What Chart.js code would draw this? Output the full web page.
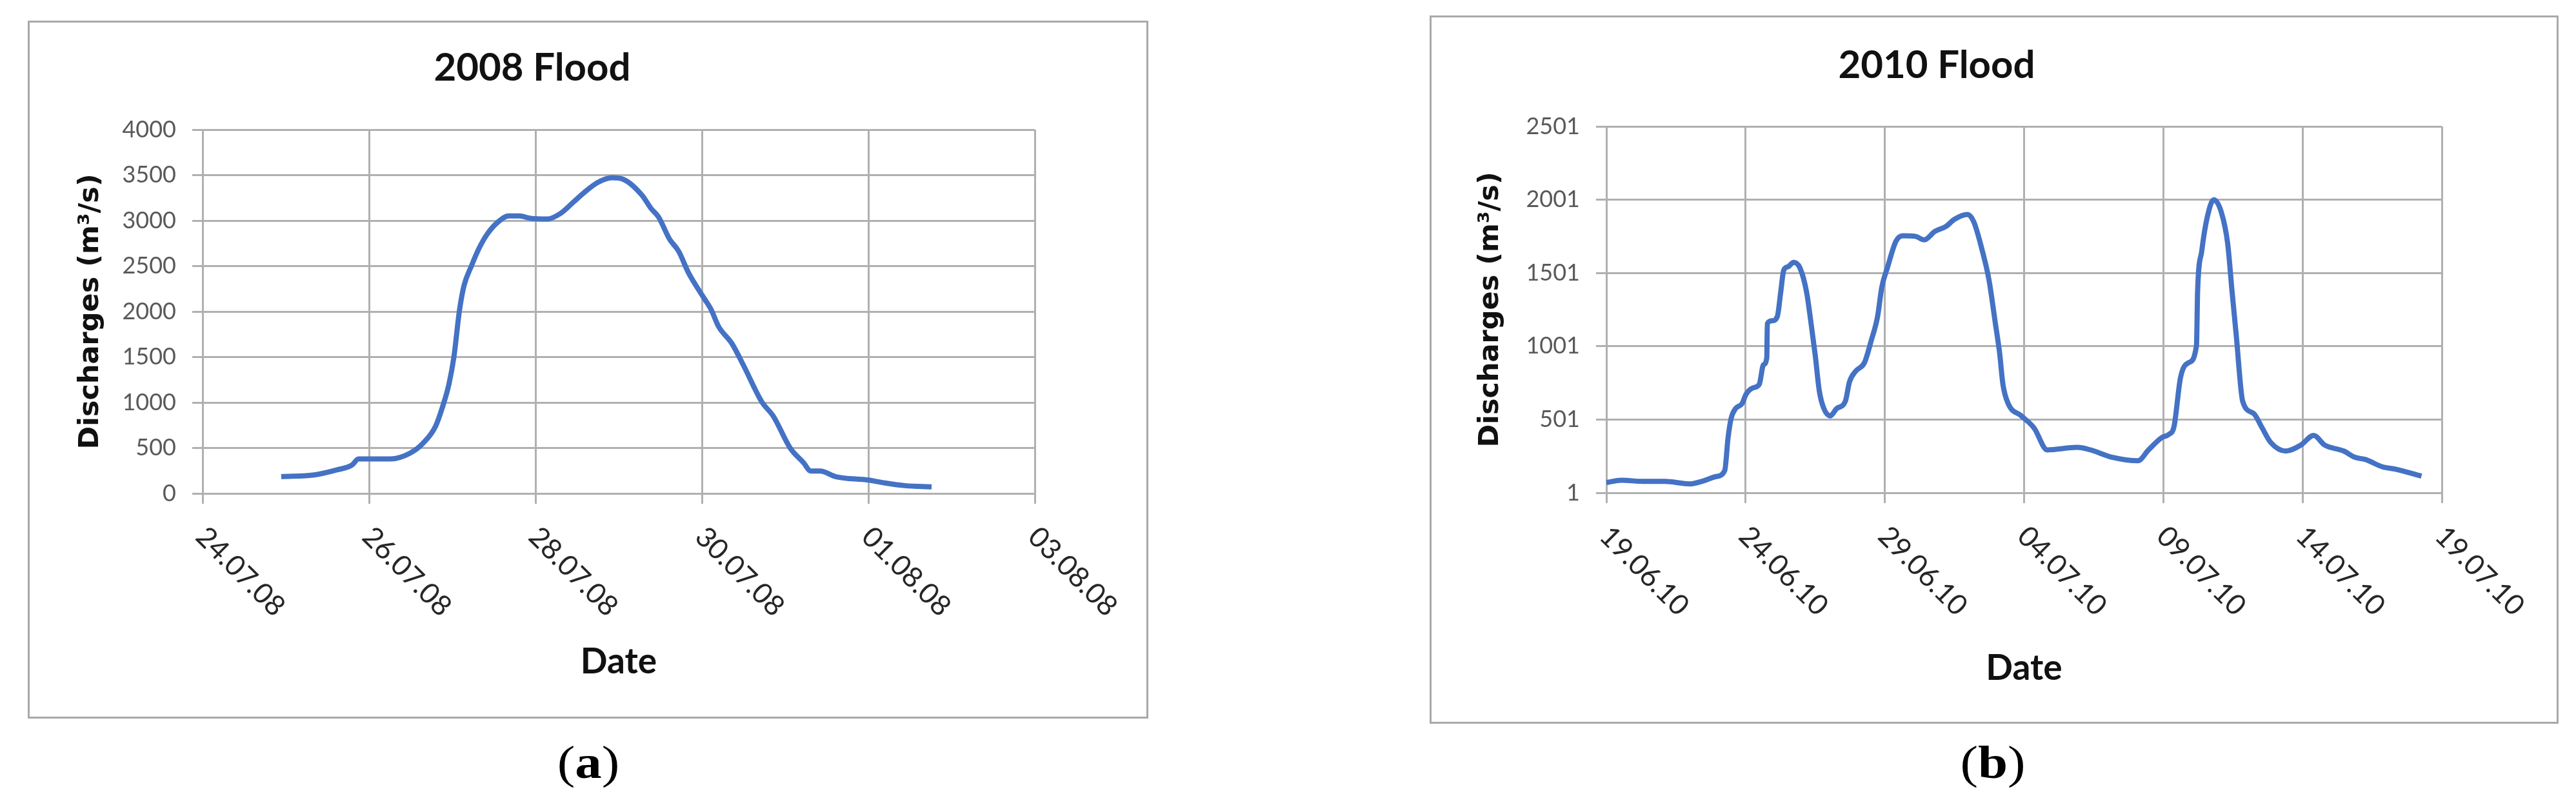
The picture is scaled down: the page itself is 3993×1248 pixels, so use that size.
<!DOCTYPE html>
<html>
<head>
<meta charset="utf-8">
<script src="https://cdn.jsdelivr.net/npm/chart.js@4.4.1/dist/chart.umd.min.js"></script>
<style>
  body { margin: 0; width: 3993px; height: 1248px; background: #fff; position: relative; overflow: hidden; }
  .box { position: absolute; border: 3px solid #a9a9a9; box-sizing: border-box; }
  .box canvas { position: absolute; left: 0; top: 0; }
  .cap { position: absolute; font-family: "Liberation Serif", serif; font-size: 72px; color: #000;
         transform: translateX(-50%) scaleX(1.15); line-height: 1; }
</style>
</head>
<body>
<div class="box" style="left:43px; top:32px; width:1737px; height:1082px;"><canvas id="chart08" width="1731" height="1076"></canvas></div>
<div class="box" style="left:2216px; top:24px; width:1750px; height:1098px;"><canvas id="chart10" width="1744" height="1092"></canvas></div>
<div class="cap" style="left:912px; top:1146px;">(<b>a</b>)</div>
<div class="cap" style="left:3089px; top:1146px;">(<b>b</b>)</div>
<script>
// 2008 flood: days after 24.07.08, discharge m3/s
const days08 = [0.945, 1.357, 1.615, 1.796, 1.874, 2.0, 2.26, 2.49, 2.65, 2.80, 2.90, 2.96, 3.02, 3.085, 3.14,
  3.23, 3.32, 3.42, 3.55, 3.68, 3.81, 3.94, 4.14, 4.30, 4.45, 4.60, 4.75, 4.92, 5.06, 5.28, 5.39, 5.48, 5.61, 5.72,
  5.84, 6.0, 6.11, 6.20, 6.36, 6.50, 6.72, 6.86, 7.06, 7.22, 7.31, 7.42, 7.61, 8.0, 8.17, 8.44, 8.76];
const flow08 = [184, 206, 259, 313, 379, 379, 379, 441, 553, 740, 1000, 1200, 1500, 2000, 2280,
  2500, 2691, 2851, 2985, 3051, 3051, 3025, 3017, 3078, 3198, 3320, 3420, 3471, 3452, 3279, 3132, 3038, 2798, 2664,
  2424, 2183, 2023, 1836, 1649, 1408, 1007, 847, 500, 339, 246, 246, 184, 147, 120, 86, 72];
const xTicks08 = [0, 2, 4, 6, 8, 10];
const xLabels08 = ['24.07.08', '26.07.08', '28.07.08', '30.07.08', '01.08.08', '03.08.08'];
const yTicks08 = [0, 500, 1000, 1500, 2000, 2500, 3000, 3500, 4000];

// 2010 flood: days after 19.06.10
const days10 = [0, 0.54, 1.31, 2.09, 3.01, 3.48, 3.94, 4.25, 4.37, 4.48, 4.64, 4.87, 5.02, 5.25, 5.49, 5.64, 5.76,
  5.78, 5.95, 6.14, 6.26, 6.37, 6.53, 6.72, 6.95, 7.19, 7.34, 7.50, 7.65, 7.81, 8.04, 8.27, 8.58, 8.73, 8.96, 9.27,
  9.51, 9.74, 9.89, 10.09, 10.40, 10.64, 11.10, 11.41, 11.80, 12.19, 12.50, 12.96, 13.19, 13.50, 13.74, 13.97,
  14.12, 14.24, 14.43, 14.90, 15.36, 15.83, 16.91, 17.38, 18.16, 19.09, 19.47, 19.94, 20.2, 20.38, 20.62, 20.92,
  21.19, 21.23, 21.38, 21.58, 21.81, 22.08, 22.31, 22.47, 22.62, 22.85, 23.24, 23.55, 23.86, 24.40, 24.94, 25.40,
  25.79, 26.48, 26.87, 27.26, 27.87, 28.34, 29.27];
const flow10 = [71, 87, 79, 79, 62, 82, 112, 153, 377, 509, 576, 609, 675, 716, 741, 874, 923,
  1155, 1175, 1205, 1370, 1520, 1544, 1573, 1536, 1370, 1172, 940, 692, 576, 526, 576, 625, 758, 832, 890,
  1039, 1205, 1404, 1536, 1718, 1755, 1751, 1727, 1785, 1818, 1867, 1900, 1851, 1652, 1453, 1155,
  957, 741, 609, 526, 443, 294, 311, 294, 244, 220, 294, 377, 400, 450, 790, 890,
  1006, 1370, 1652, 1884, 2000, 1917, 1702, 1370, 1072, 625, 543, 443, 344, 286, 327, 393,
  327, 286, 244, 228, 178, 162, 115];
const xTicks10 = [0, 5, 10, 15, 20, 25, 30];
const xLabels10 = ['19.06.10', '24.06.10', '29.06.10', '04.07.10', '09.07.10', '14.07.10', '19.07.10'];
const yTicks10 = [1, 501, 1001, 1501, 2001, 2501];

Chart.defaults.font.family = 'Lato';

// Excel-style date labels, rotated clockwise and hanging from each tick
const rotatedDates = {
  id: 'rotatedDates',
  afterDraw(chart, args, opts) {
    const ctx = chart.ctx;
    const x = chart.scales.x;
    ctx.save();
    ctx.font = '44px Lato';
    ctx.fillStyle = '#262626';
    ctx.textAlign = 'left';
    ctx.textBaseline = 'alphabetic';
    x.ticks.forEach((t, i) => {
      const px = x.getPixelForValue(t.value);
      ctx.save();
      ctx.translate(px - 13, x.top + 70);
      ctx.rotate(Math.PI / 4);
      ctx.fillText(opts.labels[i], 0, 0);
      ctx.restore();
    });
    ctx.restore();
  }
};

function makeChart(id, days, flow, xTicks, xLabels, yTicks, title, lay) {
  const grid = { color: '#b0b0b0', lineWidth: 3, drawTicks: true, tickLength: 16 };
  return new Chart(document.getElementById(id), {
    type: 'line',
    data: {
      datasets: [{
        data: days.map((d, i) => ({ x: d, y: flow[i] })),
        borderColor: '#4472c4',
        borderWidth: 8,
        pointRadius: 0,
        cubicInterpolationMode: 'monotone',
        fill: false
      }]
    },
    options: {
      responsive: false,
      animation: false,
      devicePixelRatio: 1,
      layout: { padding: { left: 0, right: lay.right, top: 0, bottom: 0 } },
      plugins: {
        legend: { display: false },
        tooltip: { enabled: false },
        title: {
          display: true, text: title, color: '#111',
          font: { size: 60, weight: 'bold', lineHeight: 1.2 },
          padding: { top: lay.titleTop, bottom: lay.titleBottom }
        },
        rotatedDates: { labels: xLabels }
      },
      scales: {
        x: {
          type: 'linear',
          min: xTicks[0], max: xTicks[xTicks.length - 1],
          afterBuildTicks: (s) => { s.ticks = xTicks.map(v => ({ value: v })); },
          afterFit: (s) => { s.height = lay.xHeight; },
          grid: grid,
          border: { color: '#b0b0b0', width: 3 },
          ticks: { display: false },
          title: {
            display: true, text: 'Date', color: '#111',
            font: { size: 55, weight: 'bold', lineHeight: 1.2 },
            padding: { top: 0, bottom: lay.dateBottom }
          }
        },
        y: {
          min: yTicks[0], max: yTicks[yTicks.length - 1],
          afterBuildTicks: (s) => { s.ticks = yTicks.map(v => ({ value: v })); },
          afterFit: (s) => { s.width = lay.yWidth; },
          grid: grid,
          border: { color: '#b0b0b0', width: 3 },
          ticks: { color: '#595959', font: { size: 36 }, padding: 25, callback: v => String(v) },
          title: {
            display: true, text: 'Discharges (m³/s)', color: '#111',
            font: { family: 'DejaVu Sans', size: 43, weight: 'bold', lineHeight: 1.2 },
            padding: { top: lay.yTitleTop, bottom: 0 }
          }
        }
      }
    },
    plugins: [rotatedDates]
  });
}

makeChart('chart08', days08, flow08, xTicks08, xLabels08, yTicks08, '2008 Flood',
  { right: 173, titleTop: 35, titleBottom: 59, xHeight: 346, dateBottom: 52, yWidth: 268, yTitleTop: 69 });
makeChart('chart10', days10, flow10, xTicks10, xLabels10, yTicks10, '2010 Flood',
  { right: 178, titleTop: 39, titleBottom: 58, xHeight: 355, dateBottom: 50, yWidth: 271, yTitleTop: 66 });
</script>
</body>
</html>
